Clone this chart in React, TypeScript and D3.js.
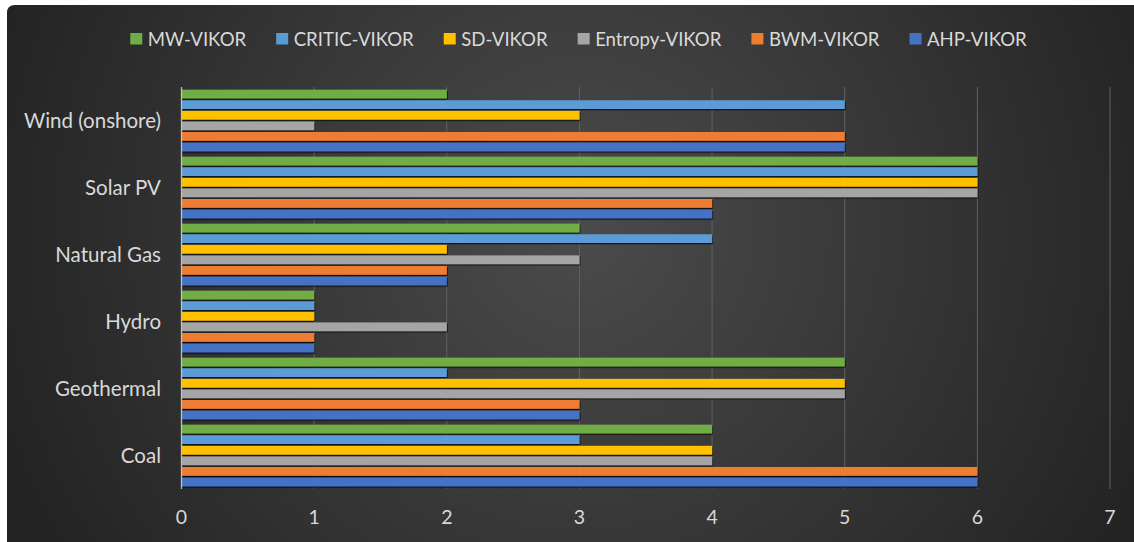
import React, { useEffect, useRef } from "react";
import * as d3 from "d3";

const categories = ["Wind (onshore)", "Solar PV", "Natural Gas", "Hydro", "Geothermal", "Coal"];
const seriesNames = ["MW-VIKOR", "CRITIC-VIKOR", "SD-VIKOR", "Entropy-VIKOR", "BWM-VIKOR", "AHP-VIKOR"];
const seriesColors = ["#70AD47", "#5B9BD5", "#FFC000", "#A5A5A5", "#ED7D31", "#4472C4"];
// values per series, in the order of categories
const mwVikor = [2, 6, 3, 1, 5, 4];
const criticVikor = [5, 6, 4, 1, 2, 3];
const sdVikor = [3, 6, 2, 1, 5, 4];
const entropyVikor = [1, 6, 3, 2, 5, 4];
const bwmVikor = [5, 4, 2, 1, 3, 6];
const ahpVikor = [5, 4, 2, 1, 3, 6];
const xTicks = [0, 1, 2, 3, 4, 5, 6, 7];

const seriesValues = [mwVikor, criticVikor, sdVikor, entropyVikor, bwmVikor, ahpVikor];

const W = 1134;
const H = 542;
const FONT = "Lato, 'Open Sans', sans-serif";

export default function App() {
  const ref = useRef<SVGSVGElement>(null);

  useEffect(() => {
    document.body.style.margin = "0";
    const svg = d3.select(ref.current);
    svg.selectAll("*").remove();

    const defs = svg.append("defs");
    const grad = defs
      .append("radialGradient")
      .attr("id", "bg")
      .attr("gradientUnits", "userSpaceOnUse")
      .attr("cx", 580)
      .attr("cy", 230)
      .attr("r", 620);
    grad.append("stop").attr("offset", "0%").attr("stop-color", "#4b4b4b");
    grad.append("stop").attr("offset", "100%").attr("stop-color", "#232323");

    const filt = defs.append("filter").attr("id", "shadow").attr("x", "-5%").attr("y", "-50%").attr("width", "110%").attr("height", "200%");
    filt.append("feDropShadow").attr("dx", 0.8).attr("dy", 1.2).attr("stdDeviation", 0.6).attr("flood-color", "#000").attr("flood-opacity", 0.9);

    svg.append("rect").attr("width", W).attr("height", H).attr("fill", "#ffffff");
    svg
      .append("path")
      .attr("d", `M7,${H} L7,13 Q7,5 15,5 L${W},5 L${W},${H} Z`)
      .attr("fill", "url(#bg)");

    const left = 181.5;
    const right = 1110;
    const top = 87;
    const bottom = 489;

    const x = d3.scaleLinear().domain([0, 7]).range([left, right]);
    const y = d3.scaleBand<string>().domain(categories).range([top, bottom]).paddingInner(0).paddingOuter(0);
    const inner = d3
      .scaleBand<string>()
      .domain(seriesNames)
      .range([0, y.bandwidth()])
      .paddingInner(0.17)
      .paddingOuter(0.25);

    // gridlines
    svg
      .append("g")
      .selectAll("line")
      .data(xTicks.filter((t) => t > 0))
      .join("line")
      .attr("x1", (d) => x(d))
      .attr("x2", (d) => x(d))
      .attr("y1", top)
      .attr("y2", bottom)
      .attr("stroke", "#616161")
      .attr("stroke-width", 1);

    // bars
    const groups = svg
      .append("g")
      .selectAll("g")
      .data(seriesNames)
      .join("g")
      .attr("fill", (_, i) => seriesColors[i])
      .attr("filter", "url(#shadow)");

    groups
      .selectAll("rect")
      .data((s, i) => seriesValues[i].map((v, j) => ({ s, v, c: categories[j] })))
      .join("rect")
      .attr("x", x(0))
      .attr("y", (d) => (y(d.c) as number) + (inner(d.s) as number))
      .attr("width", (d) => x(d.v) - x(0))
      .attr("height", inner.bandwidth());

    // axis line at 0
    svg
      .append("line")
      .attr("x1", x(0))
      .attr("x2", x(0))
      .attr("y1", top)
      .attr("y2", bottom)
      .attr("stroke", "#bfbfbf")
      .attr("stroke-width", 1.3);

    // x tick labels
    svg
      .append("g")
      .selectAll("text")
      .data(xTicks)
      .join("text")
      .attr("x", (d) => x(d))
      .attr("y", 524)
      .attr("text-anchor", "middle")
      .attr("fill", "#d9d9d9")
      .attr("font-family", FONT)
      .attr("font-size", 19.5)
      .text((d) => String(d));

    // category labels
    svg
      .append("g")
      .selectAll("text")
      .data(categories)
      .join("text")
      .attr("x", 161)
      .attr("y", (d) => (y(d) as number) + y.bandwidth() / 2)
      .attr("dy", "0.35em")
      .attr("text-anchor", "end")
      .attr("fill", "#d9d9d9")
      .attr("font-family", FONT)
      .attr("font-size", 20.5)
      .text((d) => d);

    // legend
    const legend = svg.append("g");
    const items = legend
      .selectAll("g")
      .data(seriesNames)
      .join("g");
    items
      .append("rect")
      .attr("width", 12)
      .attr("height", 11.5)
      .attr("y", -13)
      .attr("fill", (_, i) => seriesColors[i]);
    const texts = items
      .append("text")
      .attr("x", 17.5)
      .attr("y", 0)
      .attr("fill", "#d9d9d9")
      .attr("font-family", FONT)
      .attr("font-size", 18.6)
      .text((d) => d);
    const widths: number[] = [];
    texts.each(function () {
      widths.push((this as SVGTextElement).getComputedTextLength());
    });
    const gap = 30;
    const itemW = widths.map((w) => 17.5 + w);
    const total = d3.sum(itemW) + gap * (itemW.length - 1);
    let cx = 578.5 - total / 2;
    const offsets: number[] = [];
    itemW.forEach((w) => {
      offsets.push(cx);
      cx += w + gap;
    });
    items.attr("transform", (_, i) => `translate(${offsets[i]},46)`);
  }, []);

  return <svg ref={ref} width={W} height={H} style={{ display: "block" }} />;
}
